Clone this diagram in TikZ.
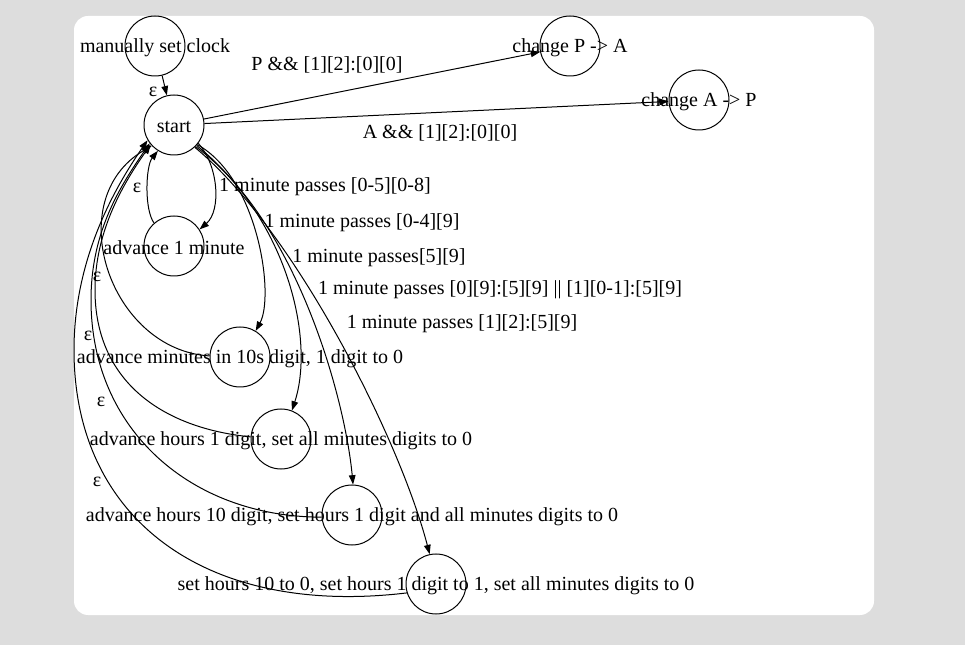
\documentclass[tikz,border=0pt]{standalone}
\usepackage{fontspec}
\setmainfont{Liberation Serif}
\usetikzlibrary{arrows.meta}
\definecolor{bggrey}{HTML}{DDDDDD}
\tikzset{
  state/.style={draw,circle,minimum size=45pt,inner sep=0pt},
  edge/.style={->,line width=.75pt},
  txt/.style={yshift=-1.5pt},
  every label/.style={yshift=-1.5pt},
}

\begin{document}
\begin{tikzpicture}[x=.75pt,y=.75pt,font=\fontsize{15}{18}\selectfont,
  >={Triangle[length=7pt,width=5pt]},line width=.75pt]
\useasboundingbox(0,0)rectangle(965,-645);
\fill[bggrey](0,0)rectangle(965,-645); %page
\fill[white,rounded corners=10.5pt](74,-16)rectangle(874,-615); %canvas

%states
\node[state,label={center:manually set clock}] (manual) at (155,-46){};
\node[state,label={center:start}] (start) at (174,-125){};
\node[state,label={center:change P -> A}] (changeP) at (570,-46){};
\node[state,label={center:change A -> P}] (changeA) at (699,-100){};
\node[state,label={center:advance 1 minute}] (adv1) at (174,-246){};
\node[state,label={center:{advance minutes in 10s digit, 1 digit to 0}}] (adv10s) at (240,-357){};
\node[state,label={center:{advance hours 1 digit, set all minutes digits to 0}}] (advH1) at (281,-439){};
\node[state,label={center:{advance hours 10 digit, set hours 1 digit and all minutes digits to 0}}] (advH10) at (352,-515){};
\node[state,label={center:{set hours 10 to 0, set hours 1 digit to 1, set all minutes digits to 0}}] (setH) at (436,-584){};

%bends of the long epsilon arcs
\coordinate (bendH1) at (95,-290);
\coordinate (bendH10) at (91,-300);
\coordinate (bendSet) at (74,-350);

%transitions
\draw[edge](manual)--(start);
\draw[edge](start)--(changeP);
\draw[edge](start)--(changeA);
\draw[edge](start.-37) .. controls +(20,-22) and +(22,19) .. (adv1.33);
\draw[edge](adv1.131) .. controls +(-10,14) and +(-12,-15) .. (start.-122);
\draw[edge](start.-40) .. controls +(61,-34) and +(19,35) .. (adv10s.59);
\draw[edge](start.-42) .. controls +(92,-75) and +(23,70) .. (advH1.69);
\draw[edge](start.-45) .. controls +(101,-74) and +(-8,86) .. (advH10.88);
\draw[edge](start.-47) .. controls +(100,-83) and +(-30,115) .. (setH.102);
\draw[edge](adv10s.178) .. controls +(-100,6) and +(-92,-54) .. (start.-137);
\draw[edge](advH1.176) .. controls +(-90,9) and +(0,-90) .. (bendH1)
  .. controls +(0,60) and +(-26,-37) .. (start.-140);
\draw[edge](advH10.184) .. controls +(-130,0) and +(0,-130) .. (bendH10)
  .. controls +(0,70) and +(-28,-41) .. (start.-143);
\draw[edge](setH.197) .. controls +(-200,-24) and +(0,-170) .. (bendSet)
  .. controls +(0,90) and +(-34,-49) .. (start.-150);

%labels
\node[txt] (eps0) at (153,-90){ε};
\node[txt] (lblP) at (327,-63){P \&\& [1][2]:[0][0]};
\node[txt] (lblA) at (440,-131){A \&\& [1][2]:[0][0]};
\node[txt] (lbl1) at (325,-185){1 minute passes [0-5][0-8]};
\node[txt] (eps1) at (137,-186){ε};
\node[txt] (lbl2) at (362,-221){1 minute passes [0-4][9]};
\node[txt] (lbl3) at (379,-256){1 minute passes[5][9]};
\node[txt] (lbl4) at (500,-288){1 minute passes [0][9]:[5][9] || [1][0-1]:[5][9]};
\node[txt] (lbl5) at (462,-322){1 minute passes [1][2]:[5][9]};
\node[txt] (eps2) at (97,-275){ε};
\node[txt] (eps3) at (88,-334){ε};
\node[txt] (eps4) at (101,-400){ε};
\node[txt] (eps5) at (97,-480){ε};
\end{tikzpicture}
\end{document}
